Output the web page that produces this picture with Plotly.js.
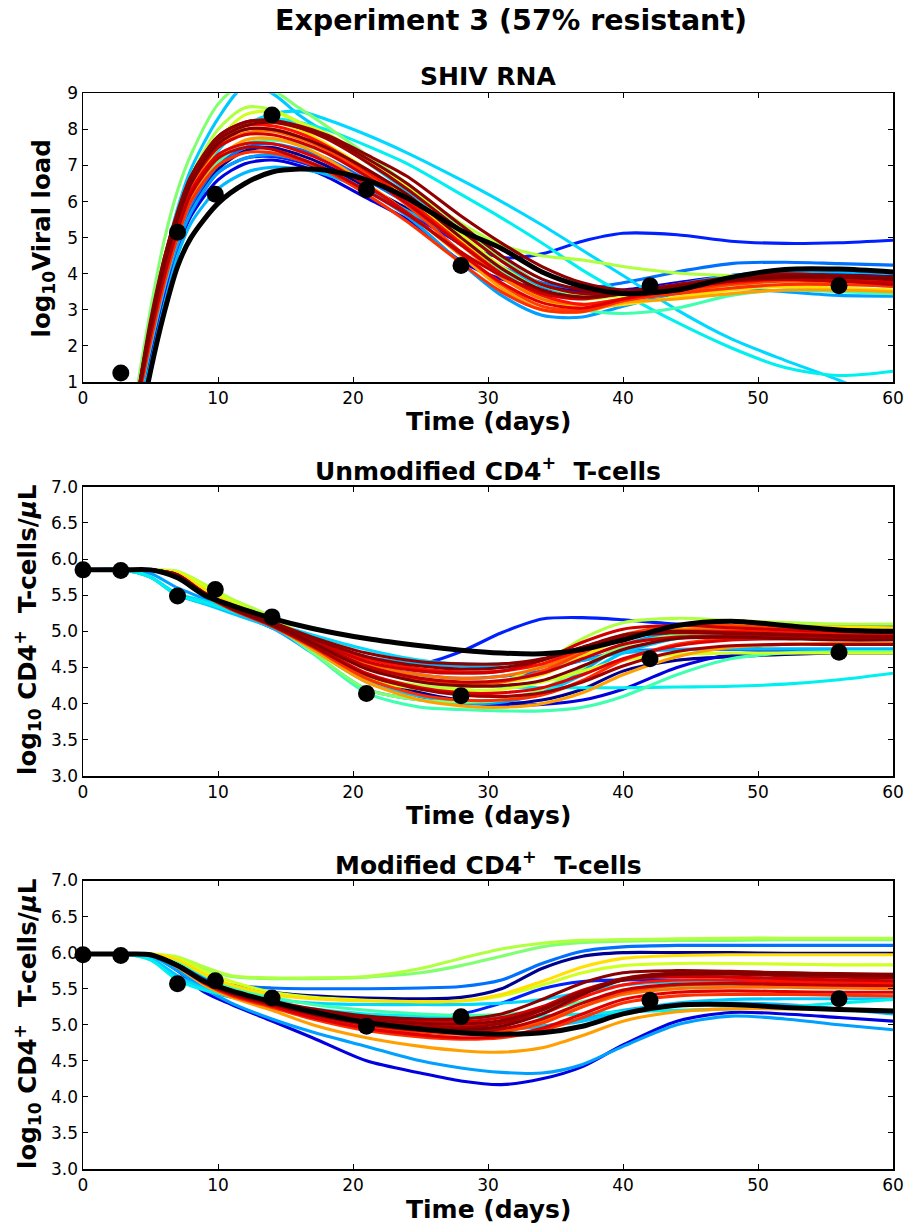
<!DOCTYPE html>
<html>
<head>
<meta charset="utf-8">
<script src="https://cdn.plot.ly/plotly-3.0.1.min.js"></script>
<style>html,body{margin:0;padding:0;background:#fff;}#chart{width:909px;height:1228px;}</style>
</head>
<body>
<div id="chart"></div>
<script>
// ---------------- DATA ----------------
const daysViral = [4,5,6,7,8,10,12,14,16,18,21,24,28,31,34,37,40,44,48,52,56,60];
const daysCells = [0,3,5,7,9,11,14,17,21,25,28,31,34,37,40,44,48,52,56,60];

const runColors = ["#00008f","#0000e0","#0020ff","#0070ff","#00a0ff","#00b8ff","#00c8ff","#00d8ff","#00f0f0",
  "#40ffb0","#80ff70","#b0ff40","#d0ff20","#ffe000","#ffa000","#ff7000","#ff4000","#ff3000","#ff1000",
  "#e00000","#d00000","#c00000","#a00000","#900000","#8b0000","#800000"];

const viralRuns = [
  [0.2,2.0,3.6,4.9,5.8,6.9,7.4,7.5,7.3,7.0,6.4,5.8,4.8,4.1,3.7,3.5,3.5,3.7,3.9,4.0,4.0,3.95],
  [0.1,1.8,3.4,4.7,5.6,6.6,7.05,7.15,7.0,6.7,6.1,5.5,4.35,3.85,3.6,3.5,3.55,3.75,3.95,4.05,4.05,4.0],
  [0.2,1.9,3.5,4.8,5.7,6.8,7.2,7.25,7.1,6.85,6.3,5.7,4.85,4.45,4.55,4.9,5.12,5.08,4.9,4.84,4.86,4.93],
  [0.3,2.1,3.7,5.0,5.9,7.0,7.5,7.6,7.45,7.2,6.6,5.95,4.9,4.2,3.75,3.6,3.75,4.05,4.28,4.32,4.28,4.24],
  [0.2,2.0,3.6,4.8,5.7,6.8,7.2,7.3,7.15,6.9,6.3,5.6,4.3,3.4,2.85,2.8,3.1,3.45,3.6,3.5,3.4,3.38],
  [0.0,1.5,3.1,4.5,5.4,6.35,6.8,6.95,6.9,6.75,6.3,5.75,4.9,4.2,3.65,3.4,3.45,3.7,3.95,4.05,4.05,4.0],
  [0.5,2.5,4.3,5.8,6.9,8.3,9.2,9.0,8.4,7.9,7.1,6.3,5.2,4.4,3.7,3.35,3.45,3.7,3.85,3.9,3.9,3.85],
  [0.3,2.0,3.6,5.0,6.1,7.4,8.1,8.42,8.5,8.28,7.85,7.35,6.6,6.0,5.35,4.65,3.95,3.0,2.2,1.6,1.05,0.4],
  [0.4,2.2,3.8,5.1,6.2,7.5,8.15,8.3,8.2,8.0,7.55,7.05,6.2,5.55,4.85,4.1,3.45,2.65,1.95,1.4,1.18,1.3],
  [0.3,2.1,3.7,5.0,6.0,7.1,7.6,7.7,7.6,7.35,6.8,6.1,5.0,4.1,3.35,3.0,2.9,3.05,3.4,3.55,3.5,3.45],
  [0.8,3.0,4.9,6.3,7.3,8.7,9.3,9.1,8.6,8.1,7.3,6.5,5.3,4.4,3.7,3.4,3.4,3.55,3.65,3.7,3.7,3.65],
  [0.5,2.6,4.3,5.7,6.7,8.0,8.6,8.55,8.2,7.8,7.1,6.4,5.4,4.8,4.5,4.38,4.2,4.02,3.95,3.95,3.9,3.85],
  [0.4,2.4,4.1,5.4,6.4,7.7,8.4,8.5,8.2,7.9,7.2,6.4,5.1,4.2,3.55,3.3,3.4,3.6,3.8,3.85,3.8,3.75],
  [0.4,2.3,4.0,5.3,6.3,7.5,8.1,8.2,8.0,7.6,6.9,6.1,4.9,4.0,3.3,3.05,3.15,3.35,3.55,3.65,3.6,3.55],
  [0.3,2.2,3.8,5.1,6.1,7.2,7.7,7.75,7.55,7.2,6.5,5.7,4.5,3.6,3.0,2.95,3.2,3.3,3.45,3.55,3.55,3.5],
  [0.4,2.4,4.1,5.4,6.4,7.5,7.9,7.95,7.75,7.45,6.8,6.0,4.8,3.9,3.3,3.15,3.3,3.5,3.7,3.8,3.75,3.7],
  [0.5,2.5,4.2,5.5,6.5,7.6,8.0,8.0,7.8,7.45,6.75,5.9,4.6,3.7,3.1,3.0,3.25,3.5,3.7,3.8,3.8,3.75],
  [0.3,2.1,3.7,5.0,6.0,7.0,7.35,7.35,7.15,6.85,6.2,5.45,4.3,3.5,3.0,2.95,3.25,3.45,3.6,3.7,3.7,3.65],
  [0.5,2.6,4.3,5.6,6.6,7.7,8.1,8.1,7.9,7.55,6.85,6.05,4.85,4.0,3.4,3.15,3.3,3.55,3.75,3.85,3.85,3.8],
  [0.4,2.4,4.0,5.3,6.3,7.3,7.6,7.6,7.4,7.1,6.45,5.7,4.55,3.75,3.2,3.05,3.3,3.6,3.8,3.85,3.8,3.75],
  [0.5,2.5,4.2,5.5,6.5,7.5,7.85,7.85,7.65,7.35,6.7,5.95,4.8,4.0,3.45,3.3,3.45,3.65,3.8,3.85,3.8,3.75],
  [0.4,2.3,3.9,5.2,6.2,7.2,7.5,7.45,7.2,6.9,6.3,5.65,4.6,3.95,3.5,3.35,3.45,3.65,3.8,3.85,3.8,3.7],
  [0.5,2.6,4.4,5.7,6.7,7.8,8.2,8.25,8.05,7.75,7.1,6.35,5.2,4.35,3.7,3.45,3.5,3.7,3.9,4.0,3.95,3.9],
  [0.5,2.7,4.4,5.7,6.7,7.8,8.2,8.25,8.1,7.85,7.3,6.7,5.6,4.85,4.2,3.75,3.55,3.6,3.8,3.9,3.9,3.85],
  [0.5,2.6,4.3,5.6,6.6,7.7,8.1,8.2,8.05,7.8,7.2,6.5,5.35,4.5,3.85,3.55,3.5,3.65,3.85,3.95,3.95,3.9],
  [0.4,2.5,4.2,5.5,6.5,7.6,8.0,8.0,7.8,7.5,6.9,6.2,5.0,4.15,3.55,3.35,3.45,3.65,3.85,3.9,3.9,3.85]
];
const viralFit = [-0.6,1.3,2.9,4.2,5.0,5.95,6.5,6.82,6.9,6.87,6.6,6.1,5.2,4.7,4.05,3.65,3.45,3.55,3.9,4.12,4.13,4.05];

const unmodRuns = [
  [5.85,5.85,5.85,5.78,5.55,5.35,5.1,4.8,4.4,4.15,4.05,4.0,4.05,4.2,4.45,4.6,4.65,4.68,4.7,4.7],
  [5.85,5.85,5.85,5.76,5.5,5.3,5.05,4.75,4.35,4.1,4.02,3.98,3.99,4.05,4.2,4.5,4.68,4.72,4.73,4.73],
  [5.85,5.85,5.85,5.77,5.5,5.3,5.05,4.85,4.62,4.55,4.72,4.98,5.17,5.19,5.16,5.1,5.08,5.07,5.07,5.07],
  [5.85,5.85,5.85,5.78,5.52,5.32,5.1,4.85,4.55,4.4,4.35,4.38,4.45,4.6,4.72,4.75,4.75,4.74,4.74,4.74],
  [5.85,5.85,5.8,5.6,5.45,5.28,5.05,4.7,4.2,4.05,4.0,4.02,4.15,4.45,4.8,5.0,5.05,5.05,5.04,5.03],
  [5.85,5.85,5.75,5.5,5.4,5.3,5.1,4.88,4.65,4.55,4.52,4.5,4.52,4.6,4.7,4.75,4.76,4.76,4.76,4.76],
  [5.85,5.85,5.75,5.5,5.38,5.25,5.05,4.75,4.3,4.1,4.05,4.05,4.15,4.4,4.7,4.9,4.95,4.95,4.95,4.95],
  [5.85,5.85,5.75,5.52,5.42,5.3,5.12,4.95,4.75,4.6,4.55,4.55,4.6,4.75,4.9,5.0,5.0,4.98,4.97,4.97],
  [5.85,5.85,5.75,5.5,5.4,5.28,5.1,4.85,4.55,4.35,4.28,4.24,4.22,4.22,4.22,4.23,4.24,4.27,4.33,4.42],
  [5.85,5.85,5.85,5.8,5.6,5.4,5.1,4.7,4.15,3.95,3.92,3.9,3.9,3.95,4.1,4.4,4.62,4.7,4.72,4.72],
  [5.85,5.85,5.85,5.82,5.62,5.42,5.15,4.72,4.2,4.05,4.02,4.05,4.2,4.5,4.8,4.95,5.0,5.0,5.0,5.0],
  [5.85,5.85,5.85,5.83,5.65,5.45,5.2,4.85,4.4,4.25,4.22,4.3,4.55,4.9,5.12,5.18,5.15,5.12,5.1,5.1],
  [5.85,5.85,5.85,5.82,5.63,5.42,5.15,4.8,4.35,4.2,4.18,4.2,4.3,4.45,4.6,4.68,4.7,4.7,4.7,4.7],
  [5.85,5.85,5.85,5.8,5.58,5.38,5.12,4.85,4.5,4.35,4.3,4.3,4.4,4.65,4.9,5.05,5.08,5.07,5.06,5.05],
  [5.85,5.85,5.85,5.78,5.52,5.33,5.08,4.75,4.3,4.05,3.97,3.95,4.0,4.15,4.4,4.65,4.78,4.82,4.83,4.83],
  [5.85,5.85,5.85,5.78,5.53,5.34,5.12,4.88,4.55,4.4,4.35,4.38,4.5,4.72,4.92,5.02,5.02,5.0,4.98,4.97],
  [5.85,5.85,5.85,5.77,5.52,5.32,5.1,4.85,4.5,4.32,4.28,4.3,4.45,4.7,4.95,5.08,5.08,5.05,5.02,5.0],
  [5.85,5.85,5.85,5.77,5.5,5.3,5.07,4.78,4.35,4.12,4.05,4.05,4.12,4.32,4.6,4.82,4.9,4.92,4.92,4.92],
  [5.85,5.85,5.85,5.78,5.53,5.34,5.12,4.9,4.62,4.48,4.44,4.45,4.55,4.75,4.92,5.0,5.0,4.98,4.96,4.95],
  [5.85,5.85,5.85,5.77,5.51,5.32,5.1,4.82,4.42,4.22,4.15,4.15,4.22,4.4,4.62,4.8,4.88,4.9,4.9,4.9],
  [5.85,5.85,5.85,5.78,5.52,5.33,5.12,4.88,4.58,4.45,4.42,4.45,4.6,4.85,5.03,5.08,5.05,5.02,5.0,4.98],
  [5.85,5.85,5.85,5.77,5.52,5.33,5.1,4.86,4.52,4.35,4.3,4.32,4.42,4.62,4.82,4.92,4.93,4.92,4.9,4.9],
  [5.85,5.85,5.85,5.77,5.51,5.31,5.08,4.8,4.4,4.2,4.12,4.1,4.15,4.3,4.52,4.72,4.8,4.82,4.82,4.82],
  [5.85,5.85,5.85,5.78,5.53,5.34,5.13,4.92,4.7,4.58,4.55,4.55,4.62,4.78,4.92,4.98,4.97,4.95,4.93,4.92],
  [5.85,5.85,5.85,5.78,5.52,5.33,5.12,4.9,4.65,4.52,4.48,4.5,4.6,4.78,4.95,5.0,4.98,4.96,4.94,4.93],
  [5.85,5.85,5.85,5.77,5.52,5.32,5.1,4.84,4.48,4.3,4.25,4.25,4.32,4.52,4.75,4.9,4.92,4.9,4.88,4.88]
];
const unmodFit = [5.85,5.85,5.85,5.74,5.5,5.36,5.18,5.04,4.9,4.8,4.74,4.7,4.69,4.75,4.88,5.08,5.14,5.08,5.02,5.0];

const modRuns = [
  [5.98,5.98,5.97,5.85,5.65,5.52,5.45,5.4,5.37,5.36,5.38,5.5,5.78,5.95,6.0,6.0,6.0,5.99,5.99,5.99],
  [5.98,5.98,5.96,5.75,5.45,5.28,5.05,4.82,4.5,4.33,4.22,4.17,4.25,4.42,4.72,5.05,5.17,5.15,5.1,5.05],
  [5.98,5.98,5.96,5.8,5.58,5.45,5.3,5.2,5.12,5.1,5.15,5.3,5.5,5.6,5.62,5.62,5.6,5.6,5.6,5.6],
  [5.98,5.98,5.97,5.85,5.65,5.55,5.51,5.5,5.5,5.51,5.53,5.62,5.85,6.02,6.08,6.1,6.1,6.1,6.1,6.1],
  [5.98,5.98,5.96,5.75,5.5,5.3,5.08,4.9,4.7,4.5,4.4,4.34,4.33,4.45,4.7,5.0,5.12,5.08,5.0,4.93],
  [5.98,5.98,5.92,5.66,5.48,5.38,5.26,5.15,5.02,4.95,4.92,4.93,4.98,5.08,5.2,5.28,5.3,5.28,5.22,5.15],
  [5.98,5.98,5.92,5.68,5.5,5.4,5.28,5.18,5.08,5.0,4.96,4.95,4.98,5.05,5.18,5.3,5.35,5.36,5.36,5.36],
  [5.98,5.98,5.9,5.65,5.5,5.42,5.35,5.3,5.28,5.28,5.28,5.3,5.35,5.45,5.55,5.6,5.62,5.65,5.68,5.7],
  [5.98,5.98,5.9,5.62,5.48,5.4,5.3,5.22,5.15,5.12,5.1,5.1,5.12,5.15,5.18,5.2,5.22,5.25,5.3,5.35],
  [5.98,5.98,5.97,5.88,5.68,5.52,5.38,5.28,5.2,5.15,5.13,5.14,5.2,5.32,5.45,5.52,5.55,5.55,5.55,5.55],
  [5.98,5.98,5.98,5.92,5.78,5.67,5.64,5.64,5.66,5.72,5.82,5.95,6.08,6.14,6.16,6.17,6.17,6.18,6.18,6.18],
  [5.98,5.98,5.98,5.94,5.8,5.68,5.65,5.65,5.67,5.78,5.92,6.05,6.13,6.17,6.18,6.19,6.2,6.2,6.2,6.2],
  [5.98,5.98,5.98,5.92,5.74,5.6,5.45,5.38,5.34,5.32,5.33,5.4,5.55,5.72,5.82,5.85,5.85,5.84,5.83,5.83],
  [5.98,5.98,5.98,5.9,5.7,5.55,5.42,5.36,5.33,5.32,5.33,5.42,5.6,5.8,5.92,5.96,5.97,5.97,5.97,5.97],
  [5.98,5.98,5.97,5.8,5.55,5.38,5.2,5.0,4.82,4.7,4.64,4.62,4.68,4.85,5.05,5.18,5.22,5.22,5.21,5.2],
  [5.98,5.98,5.97,5.82,5.58,5.42,5.28,5.15,5.0,4.92,4.9,4.93,5.05,5.25,5.42,5.5,5.52,5.52,5.51,5.5],
  [5.98,5.98,5.97,5.82,5.58,5.42,5.27,5.12,4.98,4.9,4.87,4.9,5.02,5.25,5.45,5.55,5.57,5.56,5.55,5.55],
  [5.98,5.98,5.97,5.81,5.57,5.4,5.24,5.08,4.92,4.83,4.8,4.82,4.92,5.1,5.3,5.4,5.42,5.42,5.41,5.4],
  [5.98,5.98,5.97,5.83,5.6,5.45,5.3,5.18,5.06,5.0,4.98,5.02,5.15,5.38,5.55,5.62,5.62,5.6,5.59,5.58],
  [5.98,5.98,5.97,5.82,5.58,5.42,5.26,5.1,4.95,4.86,4.82,4.84,4.95,5.15,5.35,5.45,5.47,5.46,5.45,5.45],
  [5.98,5.98,5.97,5.83,5.6,5.45,5.32,5.2,5.1,5.05,5.04,5.1,5.25,5.48,5.62,5.67,5.66,5.64,5.62,5.61],
  [5.98,5.98,5.97,5.82,5.59,5.43,5.28,5.14,5.0,4.92,4.9,4.94,5.08,5.3,5.48,5.56,5.57,5.56,5.55,5.54],
  [5.98,5.98,5.97,5.83,5.6,5.45,5.3,5.17,5.04,4.98,4.96,5.02,5.2,5.45,5.62,5.7,5.7,5.68,5.66,5.65],
  [5.98,5.98,5.97,5.83,5.6,5.45,5.31,5.19,5.08,5.02,5.01,5.06,5.22,5.46,5.64,5.72,5.73,5.72,5.71,5.7],
  [5.98,5.98,5.97,5.83,5.61,5.46,5.33,5.22,5.12,5.08,5.08,5.15,5.35,5.58,5.72,5.75,5.74,5.72,5.7,5.69],
  [5.98,5.98,5.97,5.82,5.59,5.44,5.29,5.15,5.02,4.95,4.93,4.98,5.15,5.42,5.62,5.7,5.71,5.7,5.69,5.68]
];
const modFit = [5.98,5.98,5.97,5.82,5.6,5.47,5.32,5.18,5.03,4.94,4.89,4.87,4.89,4.98,5.15,5.27,5.28,5.24,5.21,5.19];

const viralObsDays = [2.8,7,9.8,14,21,28,42,56];
const viralObs = [1.25,5.15,6.2,8.4,6.33,4.23,3.67,3.67];
const cellObsDays = [0,2.8,7,9.8,14,21,28,42,56];
const unmodObs = [5.85,5.84,5.49,5.58,5.2,4.14,4.11,4.62,4.71];
const modObs = [5.97,5.96,5.57,5.61,5.37,4.98,5.11,5.34,5.36];

const panelTitles = ["SHIV RNA","Unmodified CD4<sup>+</sup>  T-cells","Modified CD4<sup>+</sup>  T-cells"];
const yLabels = ["log<sub>10</sub>Viral load","log<sub>10</sub> CD4<sup>+</sup>  T-cells/<i>μ</i>L","log<sub>10</sub> CD4<sup>+</sup>  T-cells/<i>μ</i>L"];
const xLabel = "Time (days)";
const mainTitle = "Experiment 3 (57% resistant)";

// ---------------- TRACES ----------------
const traces = [];
const panels = [
  {x: daysViral, runs: viralRuns, fit: viralFit, ox: viralObsDays, oy: viralObs, xa: "x", ya: "y"},
  {x: daysCells, runs: unmodRuns, fit: unmodFit, ox: cellObsDays, oy: unmodObs, xa: "x2", ya: "y2"},
  {x: daysCells, runs: modRuns, fit: modFit, ox: cellObsDays, oy: modObs, xa: "x3", ya: "y3"}
];
panels.forEach(p => {
  p.runs.forEach((r, i) => {
    traces.push({type: "scatter", mode: "lines", x: p.x, y: r, xaxis: p.xa, yaxis: p.ya,
      line: {color: runColors[i], width: 3.1, shape: "spline", smoothing: 0.8}, hoverinfo: "skip", showlegend: false});
  });
  traces.push({type: "scatter", mode: "lines", x: p.x, y: p.fit, xaxis: p.xa, yaxis: p.ya,
    line: {color: "#000", width: 5, shape: "spline", smoothing: 0.8}, showlegend: false});
  traces.push({type: "scatter", mode: "markers", x: p.ox, y: p.oy, xaxis: p.xa, yaxis: p.ya, cliponaxis: false,
    marker: {color: "#000", size: 17}, showlegend: false});
});

// ---------------- LAYOUT ----------------
const W = 909, H = 1228;
const xDom = [83/W, 893/W];
const yDoms = [[1-382/H, 1-93.3/H],[1-776/H, 1-486.7/H],[1-1169/H, 1-880.5/H]];
const tickFont = {family: "DejaVu Sans", size: 17, color: "#000"};
function xAx(anchor){
  return {domain: xDom, anchor: anchor, range: [0,60], tickmode: "linear", tick0: 0, dtick: 10,
    ticks: "inside", ticklen: 5, tickwidth: 1, tickcolor: "#000", showline: true, linecolor: "#000", linewidth: 1.5,
    mirror: "ticks", showgrid: false, zeroline: false, tickfont: tickFont};
}
function yAx(anchor, dom, range, dtick, fmt){
  return {domain: dom, anchor: anchor, range: range, tickmode: "linear", tick0: range[0], dtick: dtick, tickformat: fmt,
    ticks: "inside", ticklen: 5, tickwidth: 1, tickcolor: "#000", showline: true, linecolor: "#000", linewidth: 1.5,
    mirror: "ticks", showgrid: false, zeroline: false, tickfont: tickFont};
}
const boldFont = (s) => ({family: "DejaVu Sans", size: s, color: "#000", weight: "bold"});
const ann = [];
ann.push({text: mainTitle, x: 511/W, y: 1-20/H, xref: "paper", yref: "paper", showarrow: false, xanchor: "center", yanchor: "middle", font: boldFont(28.5)});
const titleY = [76.5, 470, 863.5];
const xlabY = [421.5, 815, 1209];
const ylabX = [42, 27, 27];
const ylabY = [238.5, 630, 1024];
for (let k = 0; k < 3; k++) {
  ann.push({text: panelTitles[k], x: 488/W, y: 1-titleY[k]/H, xref: "paper", yref: "paper", showarrow: false, xanchor: "center", yanchor: "middle", font: boldFont(25)});
  ann.push({text: xLabel, x: 488/W, y: 1-xlabY[k]/H, xref: "paper", yref: "paper", showarrow: false, xanchor: "center", yanchor: "middle", font: boldFont(25)});
  ann.push({text: yLabels[k], x: ylabX[k]/W, y: 1-ylabY[k]/H, xref: "paper", yref: "paper", showarrow: false, xanchor: "center", yanchor: "middle", textangle: -90, font: boldFont(24.5)});
}

const layout = {
  width: W, height: H, autosize: false,
  margin: {l: 0, r: 0, t: 0, b: 0},
  paper_bgcolor: "#fff", plot_bgcolor: "#fff",
  showlegend: false,
  xaxis: xAx("y"), yaxis: yAx("x", yDoms[0], [1,9], 1, "d"),
  xaxis2: xAx("y2"), yaxis2: yAx("x2", yDoms[1], [3,7], 0.5, ".1f"),
  xaxis3: xAx("y3"), yaxis3: yAx("x3", yDoms[2], [3,7], 0.5, ".1f"),
  annotations: ann
};
Plotly.newPlot("chart", traces, layout, {staticPlot: true, displayModeBar: false});
</script>
</body>
</html>
